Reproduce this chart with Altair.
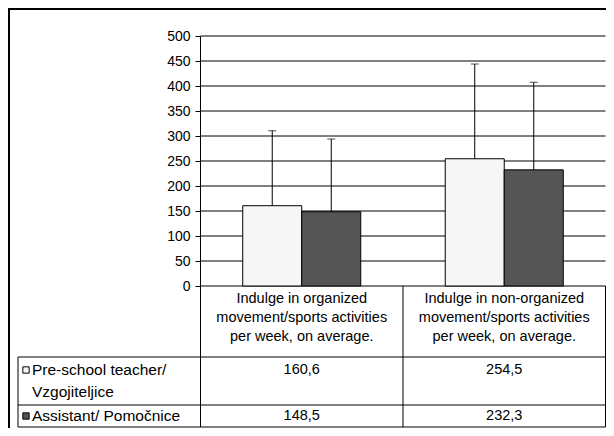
import altair as alt
import pandas as pd

# ---------------- data ----------------
CATEGORIES = [
    "Indulge in organized\nmovement/sports activities\nper week, on average.",
    "Indulge in non-organized\nmovement/sports activities\nper week, on average.",
]
SERIES = ["Pre-school teacher/\nVzgojiteljice", "Assistant/ Pomočnice"]
TEACHER_MEAN = [160.6, 254.5]
ASSISTANT_MEAN = [148.5, 232.3]
TEACHER_SD = [150.1, 189.5]
ASSISTANT_SD = [145.5, 175.0]
TEACHER_LABELS = ["160,6", "254,5"]
ASSISTANT_LABELS = ["148,5", "232,3"]
Y_TICKS = [0, 50, 100, 150, 200, 250, 300, 350, 400, 450, 500]

# ---------------- layout / style constants ----------------
FONT = "Liberation Sans"
FS = 14.5
FS_ROW = 15.5
W, H = 587.5, 391
PAD = {"left": 10, "top": 28, "right": 0.5, "bottom": 1}
X_MIN, X_MAX = -0.9012, 2.0
Y_MIN, Y_MAX = -282, 500
XU = (X_MAX - X_MIN) / W          # x units per pixel
YU = (Y_MAX - Y_MIN) / H          # y units per pixel
AXIS_OFFSET = -round(-X_MIN / XU)  # move the y axis onto the x=0 line
HEADER_BOTTOM = -71 * YU
ROW_SPLIT = -119 * YU
TABLE_BOTTOM = Y_MIN
BAR_W = 0.2914
FILLS = ["#f6f6f6", "#555555"]

xs = alt.Scale(domain=[X_MIN, X_MAX], nice=False, zero=False)
ys = alt.Scale(domain=[Y_MIN, Y_MAX], nice=False, zero=False)
yaxis = alt.Axis(values=Y_TICKS, grid=False, domain=False, tickSize=5, tickColor="black",
                 labelColor="black", labelFont=FONT, labelFontSize=14, labelPadding=5,
                 offset=AXIS_OFFSET, title=None)


def X(f):
    return alt.X(f, type="quantitative", scale=xs, axis=None)


def Y(f):
    return alt.Y(f, type="quantitative", scale=ys, axis=yaxis, title=None)


# ---------------- tables built from the arrays ----------------
rows = []
for i, cat in enumerate(CATEGORIES):
    for s, (name, means, sds) in enumerate(zip(SERIES, [TEACHER_MEAN, ASSISTANT_MEAN],
                                              [TEACHER_SD, ASSISTANT_SD])):
        x0 = i + 0.5 + (s - 1) * BAR_W
        rows.append({"cat": i, "series": name, "mean": means[i], "top": means[i] + sds[i],
                     "x0": x0, "x1": x0 + BAR_W, "xc": x0 + BAR_W / 2})
bars = pd.DataFrame(rows)

segs = [(0, X_MAX, v, v) for v in Y_TICKS]
segs += [(X_MIN, X_MAX, y, y) for y in (HEADER_BOTTOM, ROW_SPLIT, TABLE_BOTTOM)]
segs += [(0, 0, TABLE_BOTTOM, Y_MAX), (1, 1, TABLE_BOTTOM, 0), (2, 2, TABLE_BOTTOM, 0),
         (X_MIN, X_MIN, TABLE_BOTTOM, HEADER_BOTTOM)]
lines = pd.DataFrame(segs, columns=["x", "x2", "y", "y2"])

header = pd.DataFrame({"x": [i + 0.5 for i in range(len(CATEGORIES))],
                       "y": [-5.8 * YU] * len(CATEGORIES), "text": CATEGORIES})
vals = pd.DataFrame({
    "x": [i + 0.5 for i in range(len(CATEGORIES))] * 2,
    "y": [HEADER_BOTTOM - 13 * YU] * len(CATEGORIES) + [(ROW_SPLIT + TABLE_BOTTOM) / 2] * len(CATEGORIES),
    "text": TEACHER_LABELS + ASSISTANT_LABELS,
})
row_lab = pd.DataFrame({
    "series": SERIES,
    "x": [X_MIN + 14 * XU] * 2,
    "y": [HEADER_BOTTOM - 6.3 * YU, (ROW_SPLIT + TABLE_BOTTOM) / 2 + 6.7 * YU],
    "ky": [HEADER_BOTTOM - 13 * YU, (ROW_SPLIT + TABLE_BOTTOM) / 2],
    "kx": [X_MIN + 8 * XU] * 2,
})

fill = alt.Fill("series:N", scale=alt.Scale(domain=SERIES, range=FILLS), legend=None)

grid = alt.Chart(lines).mark_rule(color="black", strokeWidth=1).encode(
    x=X("x"), x2="x2", y=Y("y"), y2="y2")

bar = alt.Chart(bars).mark_bar(stroke="black", strokeWidth=1).encode(
    x=X("x0"), x2="x1", y=Y("mean"), y2=alt.datum(0), fill=fill)

err = alt.Chart(bars).mark_rule(color="black", strokeWidth=1).encode(
    x=X("xc"), y=Y("mean"), y2="top")
cap = alt.Chart(bars).mark_tick(color="black", orient="horizontal", size=8, thickness=1).encode(
    x=X("xc"), y=Y("top"))

head_txt = alt.Chart(header).mark_text(font=FONT, fontSize=FS, color="black", align="center",
                                       baseline="top", lineBreak="\n", lineHeight=19).encode(
    x=X("x"), y=Y("y"), text="text:N")
val_txt = alt.Chart(vals).mark_text(font=FONT, fontSize=FS, color="black", align="center",
                                    baseline="middle").encode(x=X("x"), y=Y("y"), text="text:N")
lab_txt = alt.Chart(row_lab).mark_text(font=FONT, fontSize=FS_ROW, color="black", align="left",
                                       baseline="top", lineBreak="\n", lineHeight=22).encode(
    x=X("x"), y=Y("y"), text="series:N")
keys = alt.Chart(row_lab).mark_square(size=40, stroke="black", strokeWidth=1, opacity=1).encode(
    x=X("kx"), y=Y("ky"), fill=fill)

frame_top = alt.Chart(lines).mark_rule(color="black", strokeWidth=1.5).encode(
    x=alt.value(-PAD["left"] + 0.75), x2=alt.value(W + 10), y=alt.value(-PAD["top"] + 0.75))
frame_left = alt.Chart(lines).mark_rule(color="black", strokeWidth=1.5).encode(
    x=alt.value(-PAD["left"] + 0.75), y=alt.value(-PAD["top"] + 0.75), y2=alt.value(H + 10))

chart = alt.layer(grid, bar, err, cap, head_txt, val_txt, lab_txt, keys, frame_top, frame_left).properties(
    width=W, height=H, padding=PAD, autosize=alt.AutoSizeParams(type="none"), background="white"
).configure_view(stroke=None)

chart.save("out.html", embed_options={"renderer": "svg", "actions": False})
